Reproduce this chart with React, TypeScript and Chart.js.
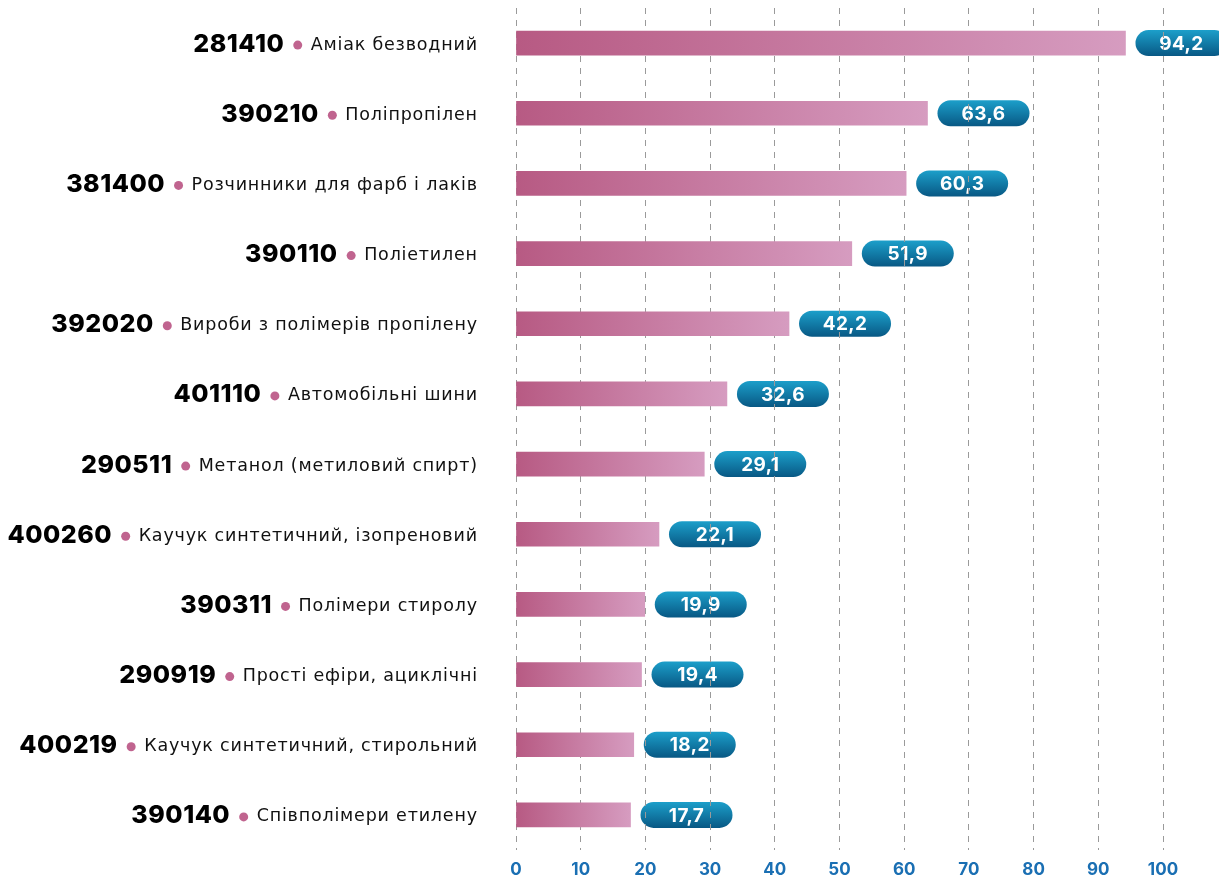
import React, { useEffect, useRef } from "react";
import { Chart, registerables } from "chart.js";

Chart.register(...registerables);

const codes = ["281410", "390210", "381400", "390110", "392020", "401110", "290511", "400260", "390311", "290919", "400219", "390140"];
const names = [
  "Аміак безводний",
  "Поліпропілен",
  "Розчинники для фарб і лаків",
  "Поліетилен",
  "Вироби з полімерів пропілену",
  "Автомобільні шини",
  "Метанол (метиловий спирт)",
  "Каучук синтетичний, ізопреновий",
  "Полімери стиролу",
  "Прості ефіри, ациклічні",
  "Каучук синтетичний, стирольний",
  "Співполімери етилену",
];
const values = [94.2, 63.6, 60.3, 51.9, 42.2, 32.6, 29.1, 22.1, 19.9, 19.4, 18.2, 17.7];
const xMin = 0;
const xMax = 100;
const xStep = 10;

const FONT = "Inter, 'Open Sans', sans-serif";
const NAME_FONT = "'DejaVu Sans', sans-serif";

const fmt = (v: number) => v.toFixed(1).replace(".", ",");

const pillPlugin = {
  id: "pills",
  beforeDraw(chart: any) {
    const ctx = chart.ctx;
    const xs = chart.scales.x;
    const ys = chart.scales.y;
    ctx.save();
    values.forEach((v, i) => {
      const x0 = xs.getPixelForValue(v) + 10;
      const y = ys.getPixelForValue(i);
      const w = 92;
      const h = 26;
      const top = y - h / 2;
      const g = ctx.createLinearGradient(0, top, 0, top + h);
      g.addColorStop(0, "#1c9fca");
      g.addColorStop(1, "#085884");
      ctx.fillStyle = g;
      ctx.beginPath();
      ctx.roundRect(x0, top, w, h, h / 2);
      ctx.fill();
      ctx.fillStyle = "#ffffff";
      (ctx as any).letterSpacing = "0.4px";
      ctx.font = `700 19px ${FONT}`;
      ctx.textAlign = "center";
      ctx.textBaseline = "middle";
      ctx.fillText(fmt(v), x0 + w / 2, y + 1);
    });
    ctx.restore();
  },
};

const labelPlugin = {
  id: "rowLabels",
  afterDraw(chart: any) {
    const ctx = chart.ctx;
    const ys = chart.scales.y;
    const right = 477;
    ctx.save();
    codes.forEach((code, i) => {
      const y = ys.getPixelForValue(i);
      const ls = 0.8;
      ctx.font = `400 17.5px ${NAME_FONT}`;
      (ctx as any).letterSpacing = `${ls}px`;
      ctx.fillStyle = "#111111";
      ctx.textAlign = "left";
      ctx.textBaseline = "middle";
      const nw = ctx.measureText(names[i]).width - ls;
      const nameX = right - nw;
      ctx.fillText(names[i], nameX, y + 2);
      const dotX = nameX - 13;
      ctx.fillStyle = "#c0648f";
      ctx.beginPath();
      ctx.arc(dotX, y + 2, 4.5, 0, Math.PI * 2);
      ctx.fill();
      (ctx as any).letterSpacing = "0.5px";
      ctx.font = `800 25px ${FONT}`;
      ctx.fillStyle = "#000000";
      const cw = ctx.measureText(code).width - 0.5;
      ctx.fillText(code, dotX - 14 - cw, y + 1);
    });
    ctx.restore();
  },
};

export default function App() {
  const ref = useRef<HTMLCanvasElement | null>(null);
  useEffect(() => {
    document.body.style.margin = "0";
    if (!ref.current) return;
    const chart = new Chart(ref.current, {
      type: "bar",
      data: {
        labels: codes,
        datasets: [
          {
            data: values,
            barThickness: 24,
            backgroundColor: (c: any) => {
              const chart = c.chart;
              if (!chart.chartArea || c.type !== "data") return "#c67aa2";
              const xs = chart.scales.x;
              const x0 = xs.getPixelForValue(0);
              const x1 = xs.getPixelForValue(values[c.dataIndex]);
              const g = chart.ctx.createLinearGradient(x0, 0, x1, 0);
              g.addColorStop(0, "#b75a83");
              g.addColorStop(1, "#d69cc0");
              return g;
            },
          },
        ],
      },
      options: {
        indexAxis: "y",
        responsive: false,
        animation: false,
        layout: { padding: { left: 516, right: 56, top: 8, bottom: 0 } },
        plugins: { legend: { display: false }, tooltip: { enabled: false } },
        scales: {
          x: {
            min: xMin,
            max: xMax,
            afterFit: (s: any) => {
              s.height = 28;
            },
            grid: { color: "#9a9a9a", lineWidth: 1, drawTicks: false },
            border: { display: false, dash: [6, 6] },
            ticks: {
              stepSize: xStep,
              padding: 10,
              color: "#1a6fb3",
              font: { family: FONT, size: 17, weight: "bold" },
            },
          },
          y: {
            display: false,
            grid: { display: false },
          },
        },
      },
      plugins: [pillPlugin, labelPlugin],
    } as any);
    return () => chart.destroy();
  }, []);
  return (
    <div style={{ position: "absolute", left: 0, top: 0, width: 1219, height: 878 }}>
      <canvas ref={ref} width={1219} height={878} style={{ display: "block" }} />
    </div>
  );
}
